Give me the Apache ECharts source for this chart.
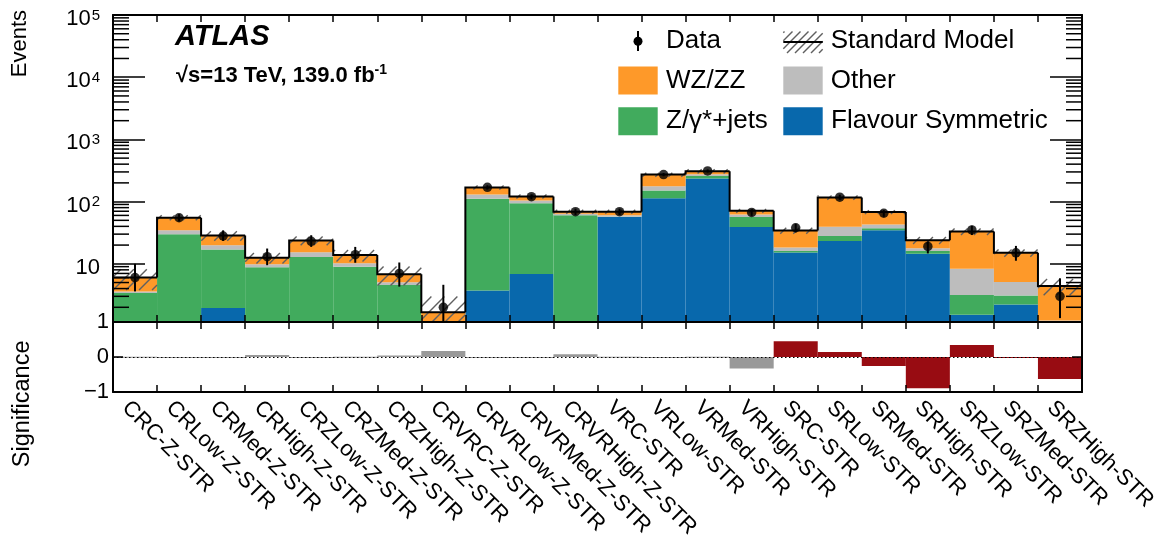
<!DOCTYPE html>
<html><head><meta charset="utf-8">
<script src="https://cdn.jsdelivr.net/npm/echarts@6/dist/echarts.min.js"></script>
<style>html,body{margin:0;padding:0;background:#fff}#c{width:1167px;height:545px}</style>
</head><body><div id="c"></div>
<script>
// ---------------- data ----------------
const categories = ['CRC-Z-STR','CRLow-Z-STR','CRMed-Z-STR','CRHigh-Z-STR','CRZLow-Z-STR','CRZMed-Z-STR','CRZHigh-Z-STR','CRVRC-Z-STR','CRVRLow-Z-STR','CRVRMed-Z-STR','CRVRHigh-Z-STR','VRC-STR','VRLow-STR','VRMed-STR','VRHigh-STR','SRC-STR','SRLow-STR','SRMed-STR','SRHigh-STR','SRZLow-STR','SRZMed-STR','SRZHigh-STR'];
const flavourSym = [0, 0, 1.94, 0, 0, 0, 0, 0, 3.71, 6.85, 0, 56.5, 113.6, 234.5, 39.1, 15.2, 23.3, 34.6, 14.5, 1.52, 2.21, 0];
const zjets      = [3.4, 29.9, 15.06, 8.77, 12.9, 8.97, 4.57, 0, 107.3, 87.6, 60.1, 0.5, 37.2, 24.5, 17.4, 0.8, 4.7, 2.6, 1.5, 1.64, 0.87, 0];
const other      = [0.2, 4.7, 2.9, 1.03, 2.5, 1.23, 0.48, 0, 19, 9.9, 3.9, 3.1, 25.8, 15.8, 5.8, 2.3, 11.6, 5.5, 1.8, 5.17, 2.03, 1.23];
const wzzz       = [2.4, 20.6, 8.6, 2.7, 8.3, 3.6, 1.73, 1.67, 39, 16.6, 4.9, 8.8, 95.1, 32.2, 9.1, 15.9, 76.9, 25.2, 6.1, 24.7, 9.9, 3.18];
const smErr      = [2.2, 5, 5, 2.4, 3.9, 2.9, 2.3, 1.3, 13, 9, 5, 5, 20, 23, 5, 3.8, 9, 5, 3, 4, 2, 1.3];
const dataVals   = [6, 55, 28, 13, 23, 14, 7, 2, 170, 120, 69, 69, 272, 311, 67, 38, 118, 65, 19, 35, 15, 3];
const dataLo     = [3.6, 48, 23.3, 9.5, 18.7, 10.4, 4.3, 0.7, 157, 109, 61, 61, 256, 293, 59, 32, 107, 57, 14.7, 29, 11.2, 1.34];
const dataHi     = [10.0, 63, 34.5, 17.6, 28.8, 18.7, 10.5, 4.6, 183, 131, 77, 77, 288, 329, 75, 44, 129, 73, 23, 41, 19.4, 5.85];
const significance = [0.01, -0.01, -0.03, 0.06, -0.01, 0.005, 0.04, 0.17, -0.01, -0.03, 0.08, 0.005, -0.01, 0.005, -0.33, 0.45, 0.14, -0.26, -0.89, 0.34, -0.02, -0.63];

// ---------------- settings ----------------
const FONT = '"Liberation Sans", Arial, Helvetica, sans-serif';
const Y_MIN = 1.16, Y_MAX = 1e5;
const C_FS = '#0868ac', C_Z = '#41ab5d', C_OTHER = '#bdbdbd', C_WZ = '#fe9929';
const C_GRAYSIG = '#999999', C_REDSIG = '#980c12';
const HATCH = '#606060';

const comps = [flavourSym, zjets, other, wzzz];
const total = categories.map((c, i) => comps.reduce((s, a) => s + a[i], 0));
const clampLog = v => Math.min(Math.max(v, Y_MIN), Y_MAX);

function hatch(x0, y0, w, h, step) {
  const out = [];
  const cStart = Math.ceil((x0 + y0) / step) * step;
  for (let c = cStart; c <= x0 + w + y0 + h; c += step) {
    const xa = Math.max(x0, c - (y0 + h));
    const xb = Math.min(x0 + w, c - y0);
    if (xb > xa) out.push({type: 'line', shape: {x1: xa, y1: c - xa, x2: xb, y2: c - xb},
      style: {stroke: HATCH, lineWidth: 1.4}});
  }
  return out;
}

function stackSeries(name, idx, color) {
  return {
    type: 'custom', name, xAxisIndex: 0, yAxisIndex: 0, z: 2,
    data: categories.map((c, i) => [i, comps[idx][i]]),
    encode: {x: 0, y: 1},
    renderItem(params, api) {
      const i = api.value(0);
      let bottom = 0;
      for (let k = 0; k < idx; k++) bottom += comps[k][i];
      const top = bottom + comps[idx][i];
      if (comps[idx][i] <= 0 || top <= Y_MIN) return null;
      const bw = api.size([1, 0])[0];
      const p0 = api.coord([i, clampLog(bottom)]);
      const p1 = api.coord([i, clampLog(top)]);
      return {type: 'rect', shape: {x: p0[0] - bw / 2, y: p1[1], width: bw, height: p0[1] - p1[1]},
        style: {fill: color}};
    }
  };
}

const minorVals = [];
for (let k = 0; k < 5; k++) for (let m = 2; m <= 9; m++) minorVals.push(m * Math.pow(10, k));

const axisLineStyle = {color: '#000', width: 2};
function catAxis(grid, pos, labels) {
  return {
    gridIndex: grid, type: 'category', data: categories, position: pos, boundaryGap: true, z: 10,
    axisLine: {show: true, onZero: false, lineStyle: axisLineStyle},
    axisTick: {show: true, inside: true, length: 7, interval: 0, alignWithLabel: false, lineStyle: {color: '#000', width: 1.5}},
    axisLabel: labels ? {show: true, interval: 0, rotate: -45, margin: 3, align: 'left', verticalAlign: 'top',
      lineHeight: 27, fontSize: 22, fontFamily: FONT, color: '#000'} : {show: false},
    splitLine: {show: false}
  };
}

const option = {
  animation: false,
  backgroundColor: '#fff',
  grid: [
    {left: 113, top: 13, width: 969, height: 309},
    {left: 113, top: 322, width: 969, height: 70}
  ],
  xAxis: [catAxis(0, 'bottom', false), catAxis(0, 'top', false), catAxis(1, 'bottom', true), catAxis(1, 'top', false)],
  yAxis: [
    {gridIndex: 0, type: 'log', logBase: 10, min: Y_MIN, max: Y_MAX, position: 'left', z: 10,
      axisLine: {show: true, onZero: false, lineStyle: axisLineStyle},
      axisTick: {show: true, inside: true, length: 32, lineStyle: {color: '#000', width: 1.5}},
      splitLine: {show: false},
      axisLabel: {show: true, margin: 13, showMinLabel: false, color: '#000',
        formatter: v => {
          const e = Math.round(Math.log10(v));
          return e === 1 ? '{b|10}' : '{b|10}{s|' + e + '}';
        },
        rich: {
          b: {fontSize: 22, fontFamily: FONT, color: '#000', lineHeight: 22, padding: [8, 0, 0, 0]},
          s: {fontSize: 15, fontFamily: FONT, color: '#000', lineHeight: 15, verticalAlign: 'top', padding: [4, 0, 0, 1]}
        }}},
    {gridIndex: 0, type: 'log', logBase: 10, min: Y_MIN, max: Y_MAX, position: 'right', z: 10,
      axisLine: {show: true, onZero: false, lineStyle: axisLineStyle},
      axisTick: {show: true, inside: true, length: 32, lineStyle: {color: '#000', width: 1.5}},
      splitLine: {show: false}, axisLabel: {show: false}},
    {gridIndex: 1, type: 'value', min: -1, max: 1, interval: 1, position: 'left', z: 10,
      axisLine: {show: true, onZero: false, lineStyle: axisLineStyle},
      axisTick: {show: true, inside: true, length: 10, lineStyle: {color: '#000', width: 1.5}},
      splitLine: {show: false},
      axisLabel: {show: true, margin: 4, fontSize: 22, fontFamily: FONT, color: '#000',
        formatter: v => v < 0 ? '\u2212' + Math.abs(v) : String(v)}},
    {gridIndex: 1, type: 'value', min: -1, max: 1, interval: 1, position: 'right', z: 10,
      axisLine: {show: true, onZero: false, lineStyle: axisLineStyle},
      axisTick: {show: true, inside: true, length: 10, lineStyle: {color: '#000', width: 1.5}},
      splitLine: {show: false}, axisLabel: {show: false}}
  ],
  series: [
    stackSeries('Flavour Symmetric', 0, C_FS),
    stackSeries('Z/γ*+jets', 1, C_Z),
    stackSeries('Other', 2, C_OTHER),
    stackSeries('WZ/ZZ', 3, C_WZ),
    { // SM uncertainty hatch
      type: 'custom', name: 'Standard Model uncertainty', xAxisIndex: 0, yAxisIndex: 0, z: 3,
      data: categories.map((c, i) => [i, total[i]]), encode: {x: 0, y: 1},
      renderItem(params, api) {
        const i = api.value(0);
        const bw = api.size([1, 0])[0];
        const cx = api.coord([i, total[i]])[0];
        const yTop = api.coord([i, clampLog(total[i] + smErr[i])])[1];
        const lo = total[i] - smErr[i];
        const yBot = api.coord([i, clampLog(lo > 0 ? lo : Y_MIN)])[1];
        return {type: 'group', children: hatch(cx - bw / 2, yTop, bw, yBot - yTop, 13)};
      }
    },
    { // SM total outline
      type: 'custom', name: 'Standard Model', xAxisIndex: 0, yAxisIndex: 0, z: 4,
      data: categories.map((c, i) => [i, total[i]]), encode: {x: 0, y: 1},
      renderItem(params, api) {
        const i = api.value(0);
        const bw = api.size([1, 0])[0];
        const p = api.coord([i, clampLog(total[i])]);
        const prev = i > 0 ? total[i - 1] : Y_MIN;
        const yP = api.coord([i, clampLog(prev)])[1];
        const pts = [[p[0] - bw / 2, yP], [p[0] - bw / 2, p[1]], [p[0] + bw / 2, p[1]]];
        if (i === categories.length - 1) pts.push([p[0] + bw / 2, api.coord([i, Y_MIN])[1]]);
        return {type: 'polyline', shape: {points: pts}, style: {stroke: '#000', lineWidth: 2, fill: null}};
      }
    },
    { // data error bars
      type: 'custom', name: 'Data errors', xAxisIndex: 0, yAxisIndex: 0, z: 5,
      data: categories.map((c, i) => [i, dataVals[i]]), encode: {x: 0, y: 1},
      renderItem(params, api) {
        const i = api.value(0);
        const a = api.coord([i, clampLog(dataLo[i])]);
        const b = api.coord([i, clampLog(dataHi[i])]);
        return {type: 'line', shape: {x1: a[0], y1: a[1], x2: b[0], y2: b[1]}, style: {stroke: '#000', lineWidth: 2}};
      }
    },
    {
      type: 'scatter', name: 'Data', xAxisIndex: 0, yAxisIndex: 0, z: 6,
      symbol: 'circle', symbolSize: 9.5, itemStyle: {color: '#000'},
      data: categories.map((c, i) => [i, dataVals[i]])
    },
    { // minor log ticks, left and right
      type: 'custom', name: 'minor ticks', xAxisIndex: 0, yAxisIndex: 0, z: 11, silent: true,
      data: minorVals.filter(v => v > Y_MIN && v < Y_MAX).map(v => [0, v]), encode: {x: 0, y: 1},
      renderItem(params, api) {
        const y = api.coord([0, api.value(1)])[1];
        const cs = params.coordSys;
        return {type: 'group', children: [
          {type: 'line', shape: {x1: cs.x, y1: y, x2: cs.x + 16, y2: y}, style: {stroke: '#000', lineWidth: 1.5}},
          {type: 'line', shape: {x1: cs.x + cs.width - 16, y1: y, x2: cs.x + cs.width, y2: y}, style: {stroke: '#000', lineWidth: 1.5}}
        ]};
      }
    },
    { // significance
      type: 'custom', name: 'Significance', xAxisIndex: 2, yAxisIndex: 2, z: 2,
      data: categories.map((c, i) => [i, significance[i]]), encode: {x: 0, y: 1},
      renderItem(params, api) {
        const i = api.value(0);
        const bw = api.size([1, 0])[0];
        const p0 = api.coord([i, 0]);
        const p1 = api.coord([i, significance[i]]);
        const fill = categories[i].startsWith('SR') ? C_REDSIG : C_GRAYSIG;
        const y = Math.min(p0[1], p1[1]);
        const h = Math.max(Math.abs(p0[1] - p1[1]), 1);
        return {type: 'rect', shape: {x: p0[0] - bw / 2, y: y, width: bw, height: h}, style: {fill}};
      },
      markLine: {silent: true, symbol: 'none', label: {show: false}, z: 3,
        lineStyle: {color: '#000', width: 1, type: [1.5, 2.5]}, data: [{yAxis: 0}]}
    }
  ],
  graphic: [
    {type: 'text', x: 175, y: 36.5, style: {text: 'ATLAS', fontSize: 29, fontWeight: 'bold', fontStyle: 'italic', fontFamily: FONT, fill: '#000', verticalAlign: 'middle'}},
    {type: 'text', x: 176, y: 76, style: {text: '{t|√s=13 TeV, 139.0 fb}{s|-1}', verticalAlign: 'middle',
      rich: {t: {fontSize: 22, fontWeight: 'bold', fontFamily: FONT, fill: '#000', lineHeight: 26},
             s: {fontSize: 14, fontWeight: 'bold', fontFamily: FONT, fill: '#000', lineHeight: 14, verticalAlign: 'top'}}}},
    {type: 'text', x: 19.5, y: 10, rotation: Math.PI / 2, style: {text: 'Events', fontSize: 22, fontFamily: FONT, fill: '#000', align: 'right', verticalAlign: 'middle'}},
    {type: 'text', x: 23, y: 340.5, rotation: Math.PI / 2, style: {text: 'Significance', fontSize: 23.5, fontFamily: FONT, fill: '#000', align: 'right', verticalAlign: 'middle'}},
    // legend
    {type: 'line', shape: {x1: 638, y1: 31, x2: 638, y2: 51}, style: {stroke: '#000', lineWidth: 2}},
    {type: 'circle', shape: {cx: 638, cy: 41.3, r: 4.5}, style: {fill: '#000'}},
    {type: 'text', x: 666, y: 41.3, style: {text: 'Data', fontSize: 26, fontFamily: FONT, fill: '#000', verticalAlign: 'middle'}},
    {type: 'group', children: hatch(783.3, 31.5, 39.4, 21.5, 8)},
    {type: 'line', shape: {x1: 783.3, y1: 42, x2: 822.7, y2: 42}, style: {stroke: '#000', lineWidth: 2}},
    {type: 'text', x: 830.7, y: 41.3, style: {text: 'Standard Model', fontSize: 26, fontFamily: FONT, fill: '#000', verticalAlign: 'middle'}},
    {type: 'rect', shape: {x: 618.3, y: 66.5, width: 39.4, height: 28}, style: {fill: C_WZ}},
    {type: 'text', x: 666, y: 80.8, style: {text: 'WZ/ZZ', fontSize: 26, fontFamily: FONT, fill: '#000', verticalAlign: 'middle'}},
    {type: 'rect', shape: {x: 783.3, y: 66.5, width: 39.4, height: 28}, style: {fill: C_OTHER}},
    {type: 'text', x: 830.7, y: 80.8, style: {text: 'Other', fontSize: 26, fontFamily: FONT, fill: '#000', verticalAlign: 'middle'}},
    {type: 'rect', shape: {x: 618.3, y: 107.3, width: 39.4, height: 28}, style: {fill: C_Z}},
    {type: 'text', x: 666, y: 121, style: {text: 'Z/γ*+jets', fontSize: 26, fontFamily: FONT, fill: '#000', verticalAlign: 'middle'}},
    {type: 'rect', shape: {x: 783.3, y: 107.3, width: 39.4, height: 28}, style: {fill: C_FS}},
    {type: 'text', x: 831, y: 121, style: {text: 'Flavour Symmetric', fontSize: 26, fontFamily: FONT, fill: '#000', verticalAlign: 'middle'}}
  ]
};

const chart = echarts.init(document.getElementById('c'), null, {renderer: 'canvas'});
chart.setOption(option);
</script>
</body></html>
